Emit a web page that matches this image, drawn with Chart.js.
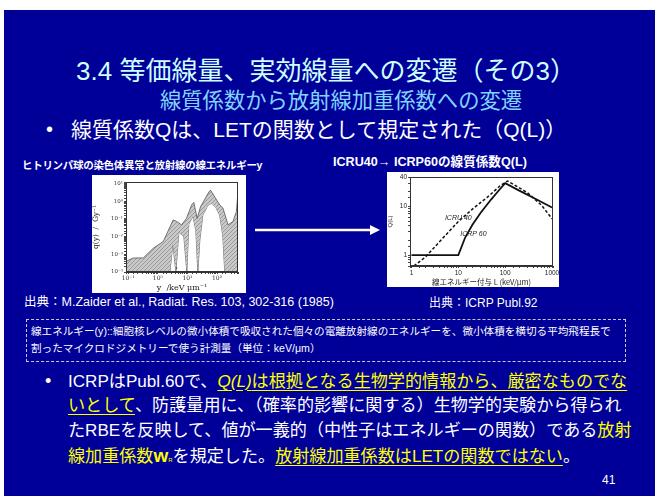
<!DOCTYPE html>
<html>
<head>
<meta charset="utf-8">
<script src="https://cdn.jsdelivr.net/npm/chart.js@4.4.1/dist/chart.umd.min.js"></script>
<style>
  body { margin: 0; width: 655px; height: 496px; background: #fff; position: relative; overflow: hidden;
         font-family: "Liberation Sans", "Noto Sans CJK JP", sans-serif; }
  .abs { position: absolute; white-space: nowrap; line-height: 1; }
  .y { color: #ffff00; }
  .u { text-decoration: underline; text-decoration-thickness: 1px; text-underline-offset: 3px; }
  .w { color: #fff; }
</style>
</head>
<body>
<div class="abs" style="left:4px;top:10px;width:651px;height:486px;background:#000099"></div>

<div class="abs" style="left:0;top:58px;width:652px;text-align:center;font-size:26px;color:#ccffff">3.4 等価線量、実効線量への変遷（その3）</div>
<div class="abs" style="left:160px;top:91px;font-size:21.3px;color:#80d4ff">線質係数から放射線加重係数への変遷</div>
<div class="abs" style="left:46px;top:119px;font-size:20px;color:#fff">•</div>
<div class="abs" style="left:71px;top:119px;font-size:21px;color:#fff">線質係数Qは、LETの関数として規定された（Q(L)）</div>

<div class="abs" style="left:22px;top:160px;font-size:10.5px;font-weight:bold;color:#fff;letter-spacing:-0.3px">ヒトリンパ球の染色体異常と放射線の線エネルギーy</div>
<div class="abs" style="left:333px;top:156px;font-size:12.6px;font-weight:bold;color:#fff">ICRU40→ ICRP60の線質係数Q(L)</div>

<div class="abs" style="left:92px;top:175px;width:154px;height:118px;background:#fff"><canvas id="left" width="154" height="118"></canvas></div>
<div class="abs" style="left:387px;top:172px;width:172px;height:115px;background:#fff"><canvas id="right" width="172" height="115"></canvas></div>

<svg class="abs" style="left:250px;top:222px" width="135" height="16">
  <line x1="5" y1="8" x2="122" y2="8" stroke="#fff" stroke-width="2.5"/>
  <polygon points="120,3 130,8 120,13" fill="#fff"/>
</svg>

<div class="abs" style="left:24px;top:296px;font-size:12.5px;color:#fff">出典：M.Zaider et al., Radiat. Res. 103, 302-316 (1985)</div>
<div class="abs" style="left:429px;top:297px;font-size:12px;color:#fff">出典：ICRP Publ.92</div>

<div class="abs" style="left:26px;top:319px;width:598px;height:41px;border:1px dashed #c8c8e0"></div>
<div class="abs" style="left:31px;top:326px;font-size:10.6px;color:#fff">線エネルギー(y)::細胞核レベルの微小体積で吸収された個々の電離放射線のエネルギーを、微小体積を横切る平均飛程長で</div>
<div class="abs" style="left:31px;top:343px;font-size:10.6px;color:#fff">割ったマイクロドジメトリーで使う計測量（単位：keV/μm）</div>

<div class="abs" style="left:45px;top:372px;font-size:18px;color:#fff">•</div>
<div class="abs w" style="left:68px;top:373px;font-size:17.1px">ICRPはPubl.60で、<span class="y u"><i>Q(L)</i>は根拠となる生物学的情報から、厳密なものでな</span></div>
<div class="abs w" style="left:68px;top:397px;font-size:17.1px"><span class="y u">いとして</span>、防護量用に、（確率的影響に関する）生物学的実験から得られ</div>
<div class="abs w" style="left:68px;top:422px;font-size:17.1px">たRBEを反映して、値が一義的（中性子はエネルギーの関数）である<span class="y">放射</span></div>
<div class="abs w" style="left:68px;top:446px;font-size:17.1px"><span class="y">線加重係数<b style="font-size:19px">w</b><span style="font-size:6px">R</span></span>を規定した。<span class="y u">放射線加重係数はLETの関数ではない</span>。</div>
<div class="abs" style="left:602px;top:474px;font-size:12px;color:#fff">41</div>

<script>
// left plot: q(y) band for chromosome aberrations
const upperL = [0.084, 0.149, 0.32, 0.70, 1.52, 3.3, 4.3, 6.3, 9.3, 13.8, 16.4, 21.3, 27.7, 54, 60, 124, 159, 235, 345, 450, 510];
const upperQ = [4.0e-4, 6.2e-4, 6.2e-4, 2.2e-3, 5.2e-3, 0.087, 0.071, 0.046, 0.107, 0.60, 0.85, 0.107, 0.49, 3.4, 4.2, 0.60, 0.40, 0.046, 0.071, 0.26, 3.4];
const lowerL = [0.084, 2.56, 3.22, 4.07, 5.13, 7.56, 9.55, 11.1, 15.2, 19.2, 22.4, 26.2, 33.0, 48.6, 66.4, 90.4, 123, 156, 182, 510];
const lowerQ = [1e-4, 1e-4, 4.3e-3, 1e-4, 0.018, 0.010, 1e-4, 0.05, 0.14, 0.023, 1e-4, 6.3e-3, 0.16, 0.58, 0.76, 0.45, 0.16, 0.012, 1e-4, 1e-4];
const midL = [0.70, 1.52, 2.55, 3.3, 6.3, 9.3, 14.8, 18.2, 21.3, 27.7, 56.8, 124, 196, 300, 450];
const midQ = [8.7e-4, 1.0e-3, 4.3e-3, 0.037, 0.024, 0.056, 0.36, 0.26, 0.03, 0.26, 1.78, 0.32, 0.03, 0.024, 0.071];
const dashL = [0.22, 0.42, 0.91, 1.98, 2.9, 3.76, 4.4, 10, 196, 300, 470];
const dashQ = [1e-4, 2.6e-4, 8.7e-4, 1e-3, 5.2e-3, 4.3e-3, 1e-4, null, 0.019, 0.016, 0.056];
const leftDecadesX = [0.1, 1, 10, 100];
const leftDecadesY = [1e-4, 1e-3, 1e-2, 1e-1, 1, 10];
const supLabels = { '-4': '10⁻⁴', '-3': '10⁻³', '-2': '10⁻²', '-1': '10⁻¹', '0': '10⁰', '1': '10¹', '2': '10²' };

// right plot: Q(L)
const icrpL = [1, 10, 14, 20, 30, 50, 70, 100, 200, 400, 1000];
const icrpQ = [1, 1, 2.3, 4.2, 7.4, 13.8, 20.2, 30, 21, 15, 9.5];
const icruL = [0.93, 2, 5, 10, 20, 43, 80, 112, 200, 300, 600, 1000];
const icruQ = [0.52, 0.92, 2.4, 4.9, 8.8, 15.8, 27, 33, 24, 19, 10.5, 5.6];
const rightTicksX = [1, 10, 100, 1000];
const rightTicksY = [1, 10, 40];
const noteText = ['ICRU 40', 'ICRP 60'];
const noteL = [10, 21];
const noteQ = [5.8, 2.7];

const pts = (xs, ys) => xs.map((x, i) => ({ x: x, y: ys[i] }));
const isIn = (v, list) => list.some(t => Math.abs(Math.log10(v) - Math.log10(t)) < 1e-6);

const framePlugin = {
  id: 'frame',
  afterDraw(chart) {
    const { ctx, chartArea: a } = chart;
    ctx.save();
    ctx.strokeStyle = '#333';
    ctx.lineWidth = 1;
    ctx.strokeRect(Math.round(a.left) + 0.5, Math.round(a.top) + 0.5, Math.round(a.right - a.left) - 1, Math.round(a.bottom - a.top) - 1);
    ctx.restore();
  }
};

// hatched grey for the band
const hatch = document.createElement('canvas');
hatch.width = 4; hatch.height = 4;
const hc = hatch.getContext('2d');
hc.fillStyle = '#c9c9c9';
hc.fillRect(0, 0, 4, 4);
hc.strokeStyle = '#999';
hc.lineWidth = 1;
hc.beginPath(); hc.moveTo(0, 4); hc.lineTo(4, 0); hc.stroke();
const hatchFill = hc.createPattern(hatch, 'repeat');

const fixAxis = (w, h) => (scale) => {
  if (w !== null) scale.width = w;
  if (h !== null) scale.height = h;
  scale.paddingLeft = 0; scale.paddingRight = 0;
  scale.paddingTop = 0; scale.paddingBottom = 0;
};

new Chart(document.getElementById('left'), {
  type: 'line',
  data: {
    datasets: [
      { data: pts(upperL, upperQ), borderColor: '#555', borderWidth: 0.8, backgroundColor: hatchFill, fill: '+1' },
      { data: pts(lowerL, lowerQ), borderColor: '#555', borderWidth: 0.8, fill: false },
      { data: pts(midL, midQ), borderColor: '#222', borderWidth: 1, fill: false },
      { data: pts(dashL, dashQ), borderColor: '#222', borderWidth: 1, borderDash: [2, 2], fill: false, spanGaps: false }
    ]
  },
  options: {
    responsive: false,
    animation: false,
    devicePixelRatio: 1,
    elements: { point: { radius: 0 }, line: { tension: 0 } },
    layout: { padding: { left: 0, right: 8, top: 7, bottom: 0 } },
    plugins: { legend: { display: false }, tooltip: { enabled: false } },
    scales: {
      x: {
        type: 'logarithmic', min: 0.084, max: 510,
        border: { color: '#333' },
        grid: { drawOnChartArea: false, tickLength: 2, color: '#444' },
        ticks: {
          autoSkip: false, maxRotation: 0, padding: 1, color: '#333',
          font: { size: 6, family: 'DejaVu Serif' },
          callback: v => isIn(v, leftDecadesX) ? supLabels[Math.round(Math.log10(v))] : ''
        },
        title: { display: true, text: 'y  /keV μm⁻¹', color: '#222', padding: 0, font: { size: 8, family: 'DejaVu Serif' } },
        afterFit: fixAxis(null, 21)
      },
      y: {
        type: 'logarithmic', min: 1e-4, max: 12,
        border: { color: '#333' },
        grid: { drawOnChartArea: false, tickLength: 2, color: '#444' },
        ticks: {
          autoSkip: false, padding: 1, color: '#333',
          font: { size: 5.5, family: 'DejaVu Serif' },
          callback: v => isIn(v, leftDecadesY) ? supLabels[Math.round(Math.log10(v))] : ''
        },
        title: { display: true, text: 'q(y)  /  Gy⁻¹', color: '#222', padding: 0, font: { size: 7.5, family: 'DejaVu Serif' } },
        afterFit: fixAxis(34, null)
      }
    }
  },
  plugins: [framePlugin]
});

const notePlugin = {
  id: 'notes',
  afterDatasetsDraw(chart) {
    const { ctx, scales } = chart;
    ctx.save();
    ctx.fillStyle = '#222';
    ctx.font = 'italic 7px "Liberation Sans"';
    ctx.textAlign = 'center';
    ctx.textBaseline = 'middle';
    noteText.forEach((t, i) => {
      ctx.fillText(t, scales.x.getPixelForValue(noteL[i]), scales.y.getPixelForValue(noteQ[i]));
    });
    ctx.restore();
  }
};

new Chart(document.getElementById('right'), {
  type: 'line',
  data: {
    datasets: [
      { data: pts(icrpL, icrpQ), borderColor: '#111', borderWidth: 1.8, fill: false },
      { data: pts(icruL, icruQ), borderColor: '#111', borderWidth: 1.5, borderDash: [3, 2], fill: false }
    ]
  },
  options: {
    responsive: false,
    animation: false,
    devicePixelRatio: 1,
    elements: { point: { radius: 0 }, line: { tension: 0 } },
    layout: { padding: { left: 0, right: 6, top: 5, bottom: 0 } },
    plugins: { legend: { display: false }, tooltip: { enabled: false } },
    scales: {
      x: {
        type: 'logarithmic', min: 0.93, max: 1050,
        border: { color: '#333' },
        grid: { drawOnChartArea: false, tickLength: 2, color: '#444' },
        ticks: {
          autoSkip: false, maxRotation: 0, padding: 1, color: '#222',
          font: { size: 6.5, family: 'Liberation Sans' },
          callback: v => isIn(v, rightTicksX) ? String(Math.round(v)) : ''
        },
        title: { display: true, text: '線エネルギー付与 L (keV/μm)', color: '#222', padding: 0, font: { size: 7.5, family: 'Noto Sans CJK JP' } },
        afterFit: fixAxis(null, 21)
      },
      y: {
        type: 'logarithmic', min: 0.6, max: 40,
        border: { color: '#333' },
        grid: { drawOnChartArea: false, tickLength: 2, color: '#444' },
        ticks: {
          autoSkip: false, padding: 1, color: '#222',
          font: { size: 6.5, family: 'Liberation Sans' },
          callback: v => isIn(v, rightTicksY) ? String(Math.round(v)) : ''
        },
        title: { display: true, text: 'Q(L)', color: '#222', padding: 0, font: { size: 6, family: 'Liberation Sans' } },
        afterFit: fixAxis(23, null)
      }
    }
  },
  plugins: [framePlugin, notePlugin]
});
</script>
</body>
</html>
